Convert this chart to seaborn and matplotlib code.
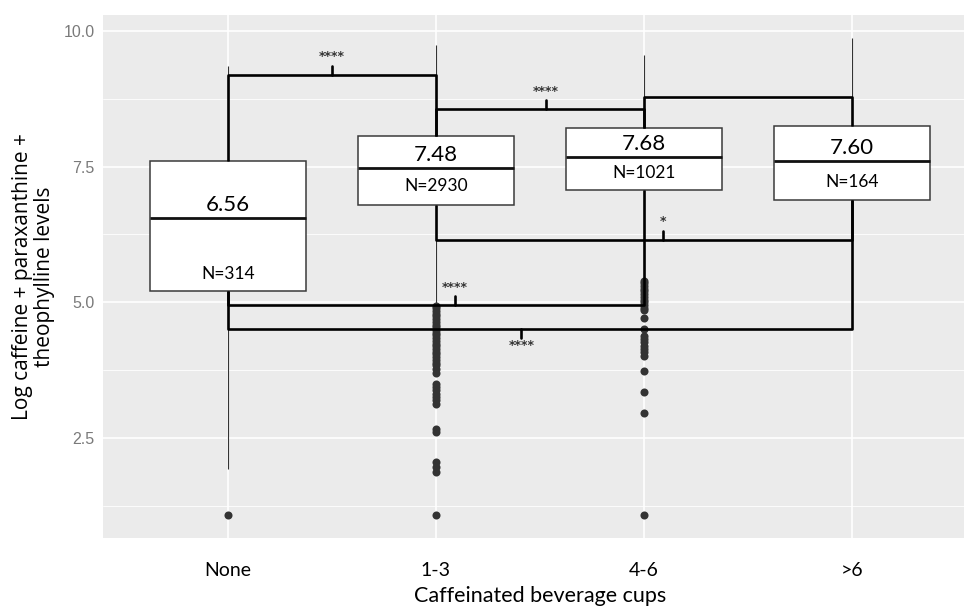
import numpy as np
import pandas as pd
import matplotlib
matplotlib.use("Agg")
import matplotlib.pyplot as plt
import seaborn as sns

# categories and box summaries (lower whisker, Q1, median, Q3, upper whisker)
groups = ["None", "1-3", "4-6", ">6"]
whisker_low = [1.93, 4.97, 5.45, 4.90]
q1 = [5.20, 6.80, 7.07, 6.89]
median = [6.56, 7.48, 7.68, 7.60]
q3 = [7.61, 8.07, 8.21, 8.25]
whisker_high = [9.36, 9.74, 9.56, 9.87]
n_labels = ["N=314", "N=2930", "N=1021", "N=164"]

# outlying points
outliers = {
    "None": [1.09],
    "1-3": [4.94, 4.89, 4.84, 4.79, 4.74, 4.69, 4.64, 4.59, 4.54, 4.49, 4.44,
            4.39, 4.34, 4.29, 4.24, 4.19, 4.14, 4.09, 4.04, 3.99, 3.94, 3.89,
            3.84, 3.78, 3.70, 3.50, 3.44, 3.38, 3.32, 3.26, 3.20, 3.13,
            2.67, 2.62, 2.06, 1.96, 1.88, 1.09],
    "4-6": [5.40, 5.35, 5.30, 5.25, 5.20, 5.15, 5.10, 5.05, 5.00, 4.95, 4.90,
            4.85, 4.72, 4.51, 4.38, 4.32, 4.26, 4.20, 4.14, 4.08, 4.01,
            3.74, 3.35, 2.96, 1.09],
    ">6": [],
}

# significance brackets: (left group, right group, level, tick x, label, tick direction)
brackets_top = [
    (0, 1, 9.19, 0.50, "****", 1),
    (1, 2, 8.56, 1.53, "****", 1),
    (2, 3, 8.78, None, "", 1),
]
brackets_bottom = [
    (1, 3, 6.15, 2.09, "*", 1),
    (0, 2, 4.95, 1.09, "****", 1),
    (0, 3, 4.51, 1.41, "****", -1),
]

rows = []
for i, g in enumerate(groups):
    for v in (whisker_low[i], q1[i], median[i], q3[i], whisker_high[i]):
        rows.append({"cups": g, "level": v})
df_box = pd.DataFrame(rows)
df_out = pd.DataFrame(
    [{"cups": g, "level": v} for g in groups for v in outliers[g]]
)

sns.set_theme(style="darkgrid", rc={
    "axes.facecolor": "#EBEBEB",
    "grid.color": "white",
})
plt.rcParams["font.family"] = ["Open Sans", "DejaVu Sans"]

fig = plt.figure(figsize=(9.64, 6.09), dpi=100)
ax = fig.add_axes([103 / 964, 71 / 609, 874 / 964, 523 / 609])

sns.boxplot(
    data=df_box, x="cups", y="level", order=groups, ax=ax,
    width=0.75, whis=(0, 100), showfliers=False, showcaps=False,
    color="white", linecolor="#3a3a3a", linewidth=1.1,
    medianprops={"color": "#111111", "linewidth": 2.0},
    whiskerprops={"color": "#333333", "linewidth": 0.8},
)
sns.stripplot(
    data=df_out, x="cups", y="level", order=groups, ax=ax,
    jitter=False, color="#333333", size=5.8, linewidth=0,
)

lw = 1.9
tick_len = 0.17
star_kw = dict(ha="center", fontsize=9, color="#333333", fontweight="bold",
               family="DejaVu Sans")
for a, b, lev, tx, lab, d in brackets_top:
    ax.plot([a, a, b, b], [q3[a], lev, lev, q3[b]], color="black", lw=lw,
            solid_capstyle="butt", zorder=4)
    if tx is not None:
        ax.plot([tx, tx], [lev, lev + d * tick_len], color="black", lw=lw, zorder=4)
        ax.text(tx, lev + tick_len + 0.04, lab, va="bottom", **star_kw)
for a, b, lev, tx, lab, d in brackets_bottom:
    ax.plot([a, a, b, b], [q1[a], lev, lev, q1[b]], color="black", lw=lw,
            solid_capstyle="butt", zorder=4)
    ax.plot([tx, tx], [lev, lev + d * tick_len], color="black", lw=lw, zorder=4)
    if d > 0:
        ax.text(tx, lev + tick_len + 0.04, lab, va="bottom", **star_kw)
    else:
        ax.text(tx, lev - tick_len - 0.02, lab, va="top", **star_kw)

# labels inside the boxes
n_label_y = [5.52, 7.15, 7.38, 7.22]
for i, g in enumerate(groups):
    ax.text(i, median[i] + 0.24, f"{median[i]:.2f}", ha="center", va="center",
            fontsize=16, color="black", zorder=5, family=["Lato", "DejaVu Sans"])
    ax.text(i, n_label_y[i], n_labels[i], ha="center", va="center",
            fontsize=12.5, color="black", zorder=5, family=["Lato", "DejaVu Sans"])

ax.set_ylim(0.66, 10.29)
ax.set_xlim(-0.6, 3.6)
ax.set_yticks([2.5, 5.0, 7.5, 10.0])
ax.set_yticklabels(["2.5", "5.0", "7.5", "10.0"], family=["Liberation Sans", "DejaVu Sans"])
ax.set_yticks([1.25, 3.75, 6.25, 8.75], minor=True)
ax.set_xticks(range(len(groups)))
ax.set_xticklabels(groups, family=["Lato", "DejaVu Sans"])
ax.grid(True, which="major", color="white", linewidth=1.2)
ax.grid(True, which="minor", axis="y", color="white", linewidth=0.6)
ax.set_axisbelow(True)
for s in ax.spines.values():
    s.set_visible(False)
ax.tick_params(axis="y", which="major", length=4, width=0.9, color="#333333",
               labelsize=11.5, labelcolor="#7a7a7a", pad=2)
ax.tick_params(axis="y", which="minor", length=0)
ax.tick_params(axis="x", length=5, width=0.9, color="#333333",
               labelsize=14, labelcolor="black", pad=12)

ax.set_xlabel("Caffeinated beverage cups", fontsize=15.5, color="black",
              labelpad=5, family=["Lato", "DejaVu Sans"])
ax.set_ylabel("Log caffeine + paraxanthine +\ntheophylline levels",
              fontsize=15, color="black", labelpad=6, linespacing=1.05)

fig.savefig("out.png", dpi=100)
